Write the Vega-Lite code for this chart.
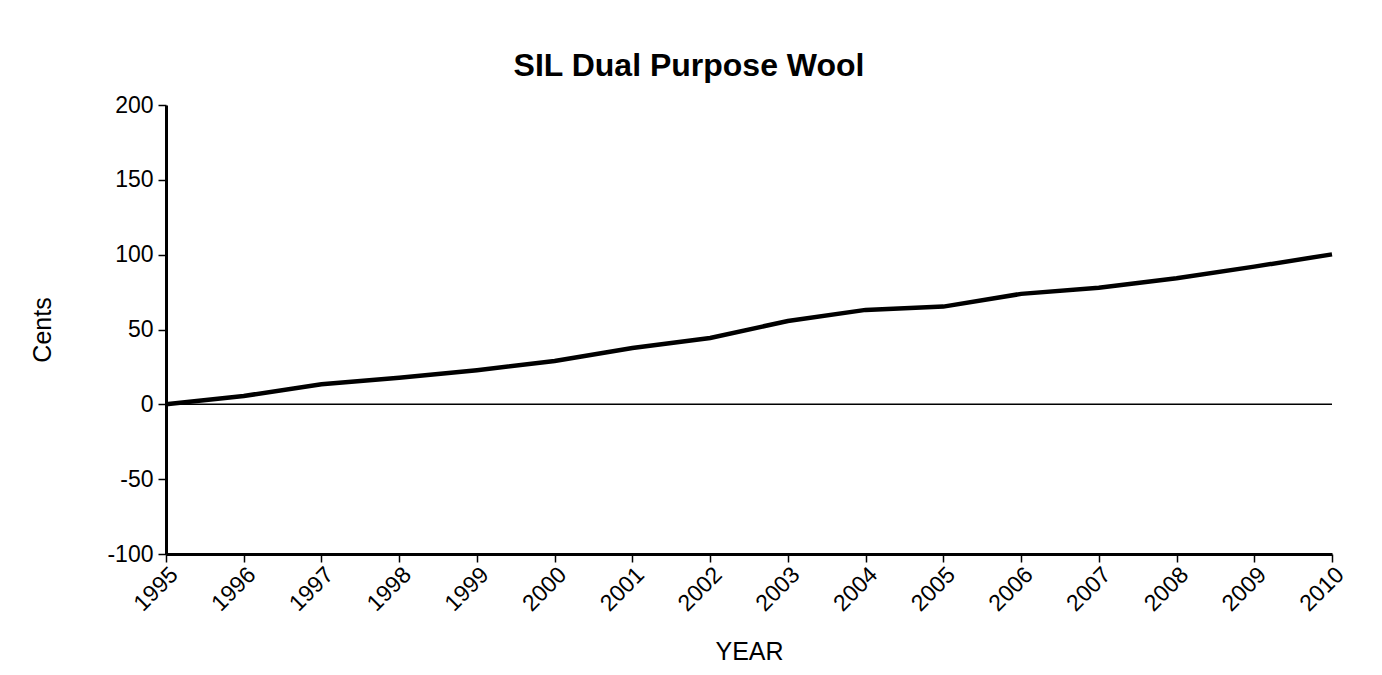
{
  "$schema": "https://vega.github.io/schema/vega-lite/v6.json",
  "width": 1166,
  "height": 449,
  "autosize": {"type": "none"},
  "padding": {"left": 166, "top": 105, "right": 50, "bottom": 121},
  "background": "white",
  "title": {
    "text": "SIL Dual Purpose Wool",
    "font": "Liberation Sans",
    "fontSize": 32,
    "fontWeight": "bold",
    "color": "black",
    "anchor": "middle",
    "frame": "group",
    "dx": -60,
    "offset": 11
  },
  "config": {
    "view": {"stroke": null},
    "axis": {
      "grid": false,
      "labelFont": "Liberation Sans",
      "labelFontSize": 23,
      "labelColor": "black",
      "titleFont": "Liberation Sans",
      "titleFontSize": 25,
      "titleFontWeight": "normal",
      "titleColor": "black",
      "domainColor": "black",
      "domainWidth": 3,
      "tickColor": "black",
      "tickWidth": 1.5,
      "tickSize": 8,
      "labelPadding": 1
    }
  },
  "data": {
    "values": [
      {"year": 1995, "cents": 0},
      {"year": 1996, "cents": 5.6},
      {"year": 1997, "cents": 13.4},
      {"year": 1998, "cents": 17.7},
      {"year": 1999, "cents": 22.8},
      {"year": 2000, "cents": 29.0},
      {"year": 2001, "cents": 37.6},
      {"year": 2002, "cents": 44.3},
      {"year": 2003, "cents": 55.7},
      {"year": 2004, "cents": 63.1},
      {"year": 2005, "cents": 65.3},
      {"year": 2006, "cents": 73.8},
      {"year": 2007, "cents": 77.9},
      {"year": 2008, "cents": 84.3},
      {"year": 2009, "cents": 92.0},
      {"year": 2010, "cents": 100.2}
    ]
  },
  "layer": [
    {
      "data": {"values": [{"zero": 0}]},
      "mark": {"type": "rule", "color": "black", "strokeWidth": 1.5},
      "encoding": {"y": {"field": "zero", "type": "quantitative"}}
    },
    {
      "mark": {"type": "line", "color": "black", "strokeWidth": 4.5},
      "encoding": {
        "x": {
          "field": "year",
          "type": "quantitative",
          "scale": {"domain": [1995, 2010], "nice": false, "zero": false},
          "axis": {
            "title": "YEAR",
            "values": [1995,1996,1997,1998,1999,2000,2001,2002,2003,2004,2005,2006,2007,2008,2009,2010],
            "labelExpr": "'' + datum.value",
            "labelAngle": -45,
            "labelAlign": "right",
            "labelBaseline": "top",
            "labelOverlap": false,
            "labelFlush": false,
            "titlePadding": 24
          }
        },
        "y": {
          "field": "cents",
          "type": "quantitative",
          "scale": {"domain": [-100, 200], "nice": false},
          "axis": {
            "title": "Cents",
            "values": [-100, -50, 0, 50, 100, 150, 200],
            "labelExpr": "'' + datum.value",
            "titlePadding": 51,
            "labelPadding": 5
          }
        }
      }
    }
  ]
}
